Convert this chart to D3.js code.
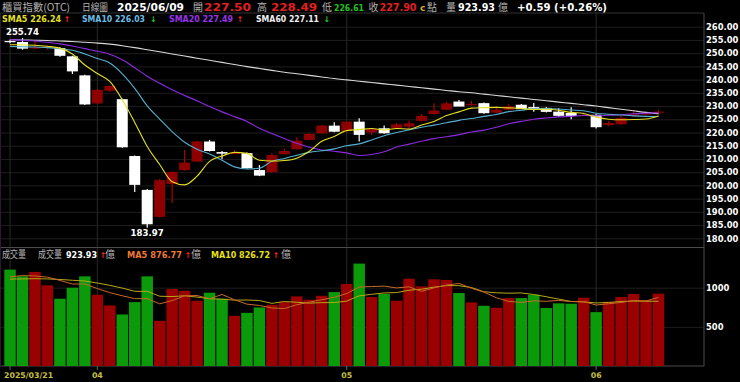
<!DOCTYPE html>
<html>
<head>
<meta charset="utf-8">
<title>櫃買指數 日線圖</title>
<script src="https://d3js.org/d3.v7.min.js"></script>
<style>
  body { margin: 0; background: #000; }
  svg text { font-family: "DejaVu Sans", Verdana, sans-serif; }
  .cjk { font-family: "Noto Sans CJK TC", serif; fill: #b4b4b4; font-size: 10px; }
  .num { font-weight: bold; }
</style>
</head>
<body>
<div id="chart"></div>
<script>
const width = 740;
const height = 382;

// trading days
const dates = ["2025/03/21","2025/03/24","2025/03/25","2025/03/26","2025/03/27","2025/03/28","2025/03/31",
  "2025/04/01","2025/04/02","2025/04/07","2025/04/08","2025/04/09","2025/04/10","2025/04/11",
  "2025/04/14","2025/04/15","2025/04/16","2025/04/17","2025/04/18","2025/04/21","2025/04/22",
  "2025/04/23","2025/04/24","2025/04/25","2025/04/28","2025/04/29","2025/04/30","2025/05/02",
  "2025/05/05","2025/05/06","2025/05/07","2025/05/08","2025/05/09","2025/05/12","2025/05/13",
  "2025/05/14","2025/05/15","2025/05/16","2025/05/19","2025/05/20","2025/05/21","2025/05/22",
  "2025/05/23","2025/05/26","2025/05/27","2025/05/28","2025/05/29","2025/06/02","2025/06/03",
  "2025/06/04","2025/06/05","2025/06/06","2025/06/09"];

const open  = [254.6,254.2,252.0,252.0,251.9,248.8,241.6,231.0,235.8,232.6,211.1,198.3,188.1,200.5,
  205.8,209.0,216.6,212.6,212.0,212.2,205.8,205.0,211.8,213.7,217.2,219.7,222.6,220.6,224.1,220.0,
  221.6,221.6,222.2,224.4,227.0,228.6,231.7,230.3,231.1,227.5,228.6,230.5,229.6,229.3,227.9,227.4,
  226.3,226.7,222.8,223.1,226.3,226.8,227.50];
const high  = [255.2,255.74,254.5,252.9,252.2,249.0,241.8,236.4,237.8,232.8,211.3,198.6,202.4,205.3,
  213.4,216.9,217.2,213.0,213.3,212.4,207.7,212.2,213.9,218.2,219.7,222.8,223.9,224.3,225.4,221.5,
  222.6,223.6,224.4,227.0,231.1,231.7,232.3,232.0,231.3,229.9,230.7,230.8,231.2,229.6,229.2,229.5,
  227.6,226.9,224.3,226.2,228.4,227.6,228.49];
const low   = [253.7,251.3,251.6,251.4,248.6,242.1,230.4,230.8,235.4,214.2,197.5,183.97,187.9,193.3,
  205.5,208.8,212.8,210.0,211.8,206.3,203.5,204.8,211.6,213.5,217.0,219.5,220.1,220.4,216.6,219.1,
  219.5,221.4,221.6,224.2,226.8,228.4,230.0,230.1,227.1,227.3,228.4,229.0,227.8,227.6,226.0,225.0,
  226.1,221.5,222.4,222.9,226.0,226.5,226.61];
const close = [254.3,251.7,252.2,252.5,249.0,243.1,230.6,236.1,237.6,214.4,200.2,185.3,202.0,205.1,
  208.6,216.6,213.0,212.0,212.3,206.5,203.7,211.5,213.0,216.9,219.5,222.6,220.3,224.1,219.1,221.3,
  219.7,223.1,223.5,226.3,228.3,231.0,229.8,230.8,227.3,228.6,229.9,228.8,229.0,227.8,226.3,226.3,
  226.7,222.0,223.6,225.5,226.9,227.31,227.90];

// 成交量 (億)
const volume = [1231,1145,1201,1030,859,1000,1145,910,773,658,816,1145,577,983,961,833,936,859,641,
  679,748,782,816,889,846,897,944,1047,1308,880,919,833,1115,1017,1107,1098,932,812,769,744,868,
  868,910,740,800,795,872,688,820,880,920,840,923.93];

const sma5  = [253.2,253.1,253.0,252.6,251.9,249.7,245.5,242.3,239.3,232.4,223.8,214.7,207.9,201.4,
  200.2,203.5,209.1,211.1,212.5,212.1,209.5,209.2,209.4,210.3,212.9,216.7,218.5,220.7,221.1,221.5,
  220.9,221.5,221.3,222.8,224.2,226.4,227.8,229.2,229.4,229.5,229.3,229.1,228.7,228.8,228.4,227.6,
  227.2,225.8,225.0,224.8,224.9,225.1,226.24];
const sma10 = [252.5,252.4,252.3,252.1,251.7,251.1,249.7,248.0,246.3,242.2,236.7,230.1,225.1,220.3,
  216.3,213.7,211.9,209.5,207.0,206.2,206.5,209.1,210.2,211.4,212.5,213.1,213.8,215.0,215.7,217.2,
  218.8,220.0,221.0,222.0,222.8,223.7,224.6,225.3,226.1,226.8,227.9,228.4,229.0,229.1,228.9,228.5,
  228.2,227.3,226.9,226.6,226.3,226.1,226.03];
const sma20 = [255.1,254.9,254.6,254.1,253.5,252.7,251.7,250.7,249.6,247.5,244.5,241.3,238.6,236.2,
  234.0,232.0,229.8,227.8,226.0,224.2,221.6,219.6,217.7,215.9,214.4,213.4,212.9,212.3,211.3,211.7,
  212.7,214.5,215.6,216.7,217.7,218.4,219.2,220.2,220.9,222.0,223.3,224.2,225.0,225.5,225.9,226.1,
  226.4,226.3,226.5,226.7,227.1,227.3,227.49];
const sma60 = [255.1,255.0,254.9,254.8,254.6,254.4,254.1,253.8,253.4,252.8,252.1,251.3,250.5,249.7,
  248.9,248.1,247.3,246.5,245.7,244.9,244.2,243.5,242.8,242.2,241.6,241.0,240.4,239.9,239.4,238.9,
  238.4,237.9,237.4,236.9,236.4,235.9,235.4,235.0,234.5,234.0,233.5,233.0,232.5,232.0,231.5,231.0,
  230.5,230.0,229.4,228.8,228.2,227.6,227.11];

const volMa5  = [1140,1155,1150,1135,1093,1047,1047,989,937,897,860,860,794,836,896,900,858,914,846,
  790,773,742,733,783,816,846,878,925,1008,1015,1020,997,1011,953,998,1034,1054,993,944,871,825,812,
  832,826,837,823,823,779,795,811,836,830,876.77];
const volMa10 = [1110,1112,1115,1112,1105,1095,1085,1060,1030,995,954,954,891,887,897,880,859,854,841,
  843,836,800,824,814,803,809,810,829,896,916,933,938,968,981,1007,1027,1026,1002,948,935,930,933,
  913,885,854,824,818,805,811,824,829,827,826.72];

const priceTicks = [180,185,190,195,200,205,210,215,220,225,230,235,240,245,250,255,260];
const volTicks = [500, 1000];
const monthTicks = ["2025/03/21","2025/04/01","2025/05/02","2025/06/02"];
const monthLabels = ["2025/03/21","04","05","06"];

const plotRight = 704;
const priceTop = 13, priceBottom = 247.5, volBottom = 366;

const svg = d3.select('#chart')
  .append('svg')
  .attr('width', width)
  .attr('height', height)
  .style('background', '#000');

const x = d3.scaleBand()
  .domain(dates)
  .range([3.8, 3.8 + 12.47 * dates.length])
  .padding(0);
const bw = x.bandwidth();
const cx = d => x(d) + bw / 2;

const y = d3.scaleLinear().domain([180, 260]).range([238.3, 26.7]);
const yv = d3.scaleLinear().domain([0, 1000]).range([volBottom, 287.7]);

// grid lines
svg.append('g')
  .call(d3.axisLeft(y).tickValues(priceTicks).tickSize(-plotRight).tickFormat(''))
  .call(g => g.select('.domain').remove())
  .call(g => g.selectAll('line').attr('stroke', '#1e1e1e'));
svg.append('g')
  .call(d3.axisLeft(yv).tickValues(volTicks).tickSize(-plotRight).tickFormat(''))
  .call(g => g.select('.domain').remove())
  .call(g => g.selectAll('line').attr('stroke', '#1e1e1e'));
svg.append('g')
  .attr('transform', `translate(0,${volBottom})`)
  .call(d3.axisBottom(x).tickValues(monthTicks).tickSize(-(volBottom - priceTop)).tickFormat(''))
  .call(g => g.select('.domain').remove())
  .call(g => g.selectAll('line').attr('stroke', '#2a2a2a'));

// frame
const frame = svg.append('g').attr('stroke', '#4a4a4a').attr('fill', 'none');
frame.append('line').attr('x1', 0).attr('x2', plotRight).attr('y1', priceTop).attr('y2', priceTop).attr('stroke', '#333');
frame.append('line').attr('x1', 0).attr('x2', plotRight).attr('y1', priceBottom).attr('y2', priceBottom);
frame.append('line').attr('x1', 0).attr('x2', plotRight).attr('y1', volBottom).attr('y2', volBottom);
frame.append('line').attr('x1', plotRight).attr('x2', plotRight).attr('y1', priceTop).attr('y2', volBottom);
frame.append('line').attr('x1', 0.5).attr('x2', 0.5).attr('y1', priceTop).attr('y2', volBottom).attr('stroke', '#2a1a30');

// axes labels
svg.append('g')
  .attr('transform', `translate(${plotRight},0)`)
  .call(d3.axisRight(y).tickValues(priceTicks).tickSize(0).tickPadding(2).tickFormat(d3.format('.2f')))
  .call(g => g.select('.domain').remove())
  .call(g => g.selectAll('text').attr('fill', '#fff').attr('font-size', '8.4px').attr('font-weight', 'bold'));
svg.append('g')
  .attr('transform', `translate(${plotRight},0)`)
  .call(d3.axisRight(yv).tickValues(volTicks).tickSize(0).tickPadding(2).tickFormat(d3.format('d')))
  .call(g => g.select('.domain').remove())
  .call(g => g.selectAll('text').attr('fill', '#fff').attr('font-size', '8.4px').attr('font-weight', 'bold'));
svg.append('g')
  .attr('transform', `translate(0,${volBottom})`)
  .call(d3.axisBottom(x).tickValues(monthTicks).tickSize(4).tickPadding(2)
    .tickFormat((d, i) => monthLabels[i]))
  .call(g => g.select('.domain').remove())
  .call(g => g.selectAll('line').attr('stroke', '#666'))
  .call(g => g.selectAll('text').attr('fill', '#c8c040').attr('font-size', '7.8px').attr('font-weight', 'bold'))
  .call(g => g.select('.tick text').attr('text-anchor', 'start').attr('x', -6));

const rows = dates.map((d, i) => ({ date: d, o: open[i], h: high[i], l: low[i], c: close[i], v: volume[i] }));
const upCol = '#8e0000', downCol = '#ffffff';

// volume bars
svg.append('g')
  .selectAll('rect')
  .data(rows)
  .join('rect')
    .attr('x', d => x(d.date) + 0.5)
    .attr('width', bw - 1)
    .attr('y', d => yv(d.v))
    .attr('height', d => yv(0) - yv(d.v))
    .attr('fill', d => d.c >= d.o ? '#9a0000' : '#0a9a0a');

// volume MA lines
const vline = d3.line().x((d, i) => cx(dates[i])).y(d => yv(d));
svg.append('path').attr('d', vline(volMa10)).attr('fill', 'none').attr('stroke', '#b8a818').attr('stroke-width', 1);
svg.append('path').attr('d', vline(volMa5)).attr('fill', 'none').attr('stroke', '#c86a28').attr('stroke-width', 1);

// candles
const candle = svg.append('g')
  .selectAll('g')
  .data(rows)
  .join('g');
candle.append('line')
  .attr('x1', d => cx(d.date)).attr('x2', d => cx(d.date))
  .attr('y1', d => y(d.h)).attr('y2', d => y(d.l))
  .attr('stroke', d => d.c >= d.o ? '#b00000' : downCol)
  .attr('stroke-width', 1.2);
candle.append('rect')
  .attr('x', d => cx(d.date) - 5.5)
  .attr('width', 11)
  .attr('y', d => y(Math.max(d.o, d.c)))
  .attr('height', d => Math.max(1.2, Math.abs(y(d.o) - y(d.c))))
  .attr('fill', d => d.c >= d.o ? upCol : downCol);

// moving averages
const pline = d3.line().x((d, i) => cx(dates[i])).y(d => y(d)).curve(d3.curveMonotoneX);
[[sma60, '#d8d8d8'], [sma20, '#8a2be2'], [sma10, '#56aed0'], [sma5, '#e6e020']].forEach(([s, col]) => {
  svg.append('path').attr('d', pline(s)).attr('fill', 'none').attr('stroke', col).attr('stroke-width', 1.1);
});

// high / low marks
const hiIdx = high.indexOf(d3.max(high));
const loIdx = low.indexOf(d3.min(low));
svg.append('text').attr('class', 'num').attr('x', cx(dates[hiIdx])).attr('y', y(high[hiIdx]) - 3)
  .attr('text-anchor', 'middle').attr('fill', '#fff').attr('font-size', '8.6px').text(high[hiIdx].toFixed(2));
svg.append('text').attr('class', 'num').attr('x', cx(dates[loIdx])).attr('y', y(low[loIdx]) + 8.5)
  .attr('text-anchor', 'middle').attr('fill', '#fff').attr('font-size', '8.6px').text(low[loIdx].toFixed(2));

// header texts
function put(xp, yp, txt, col, size, cls, len) {
  const t = svg.append('text').attr('x', xp).attr('y', yp).text(txt);
  if (cls) t.attr('class', cls);
  if (col) t.attr('fill', col);
  if (size) t.attr('font-size', size);
  if (len) t.attr('textLength', len).attr('lengthAdjust', 'spacingAndGlyphs');
  return t;
}
const red = '#e02020', green = '#20c020';
const last = close.length - 1;
const chg = close[last] - close[last - 1];

put(2, 11, '櫃買指數(OTC)', null, null, 'cjk', 68);
put(82, 11, '日線圖', null, null, 'cjk', 26);
put(117, 11, dates[last], '#fff', '10.5px', 'num', 67);
put(193, 11, '開', null, null, 'cjk');
put(204, 11, open[last].toFixed(2), open[last] >= close[last - 1] ? red : green, '11px', 'num', 47);
put(257, 11, '高', null, null, 'cjk');
put(271, 11, high[last].toFixed(2), high[last] >= close[last - 1] ? red : green, '11px', 'num', 46);
put(322, 11, '低', null, null, 'cjk');
put(334, 11, low[last].toFixed(2), low[last] >= close[last - 1] ? red : green, '8.5px', 'num', 30);
put(368.5, 11, '收', null, '9.5px', 'cjk');
put(379.5, 11, close[last].toFixed(2), close[last] >= close[last - 1] ? red : green, '9.6px', 'num', 37);
put(420, 11, 'c', '#d8b020', '9px', 'num');
put(427, 11, '點', null, null, 'cjk');
put(446, 11, '量', null, null, 'cjk');
put(458, 11, volume[last].toFixed(2), '#fff', '9.6px', 'num', 37);
put(498, 11, '億', null, null, 'cjk');
put(517, 11, `+${chg.toFixed(2)} (+${(chg / close[last - 1] * 100).toFixed(2)}%)`, '#fff', '10px', 'num', 90);

// SMA legend
const arrow = (xp, yp, up) => put(xp, yp, up ? '↑' : '↓', up ? '#ff2020' : '#20d020', '8px', 'num');
put(2, 21.5, `SMA5 ${sma5[last].toFixed(2)}`, '#e6e020', '8.5px', 'num', 59);
arrow(63.5, 21.5, true);
put(82, 21.5, `SMA10 ${sma10[last].toFixed(2)}`, '#6cbce4', '8.5px', 'num', 63);
arrow(150, 21.5, false);
put(169, 21.5, `SMA20 ${sma20[last].toFixed(2)}`, '#9a34ec', '8.5px', 'num', 64);
arrow(236.5, 21.5, true);
put(256, 21.5, `SMA60 ${sma60[last].toFixed(2)}`, '#f0f0f0', '8.5px', 'num', 63);
arrow(323.5, 21.5, false);

// volume legend
put(2, 257.5, '成交量', null, '8.2px', 'cjk', 24);
put(38, 257.5, '成交量', null, '8.2px', 'cjk', 24);
put(66, 257.5, volume[last].toFixed(2), '#fff', '8.5px', 'num', 31);
arrow(99.5, 257.5, true);
put(105, 257.5, '億', null, '8.2px', 'cjk');
put(127, 257.5, `MA5 ${volMa5[last].toFixed(2)}`, '#f07a30', '8.5px', 'num', 55);
arrow(184.5, 257.5, true);
put(191, 257.5, '億', null, '8.2px', 'cjk');
put(211, 257.5, `MA10 ${volMa10[last].toFixed(2)}`, '#e8e010', '8.5px', 'num', 59);
arrow(272.5, 257.5, true);
put(281, 257.5, '億', null, '8.2px', 'cjk');
</script>
</body>
</html>
